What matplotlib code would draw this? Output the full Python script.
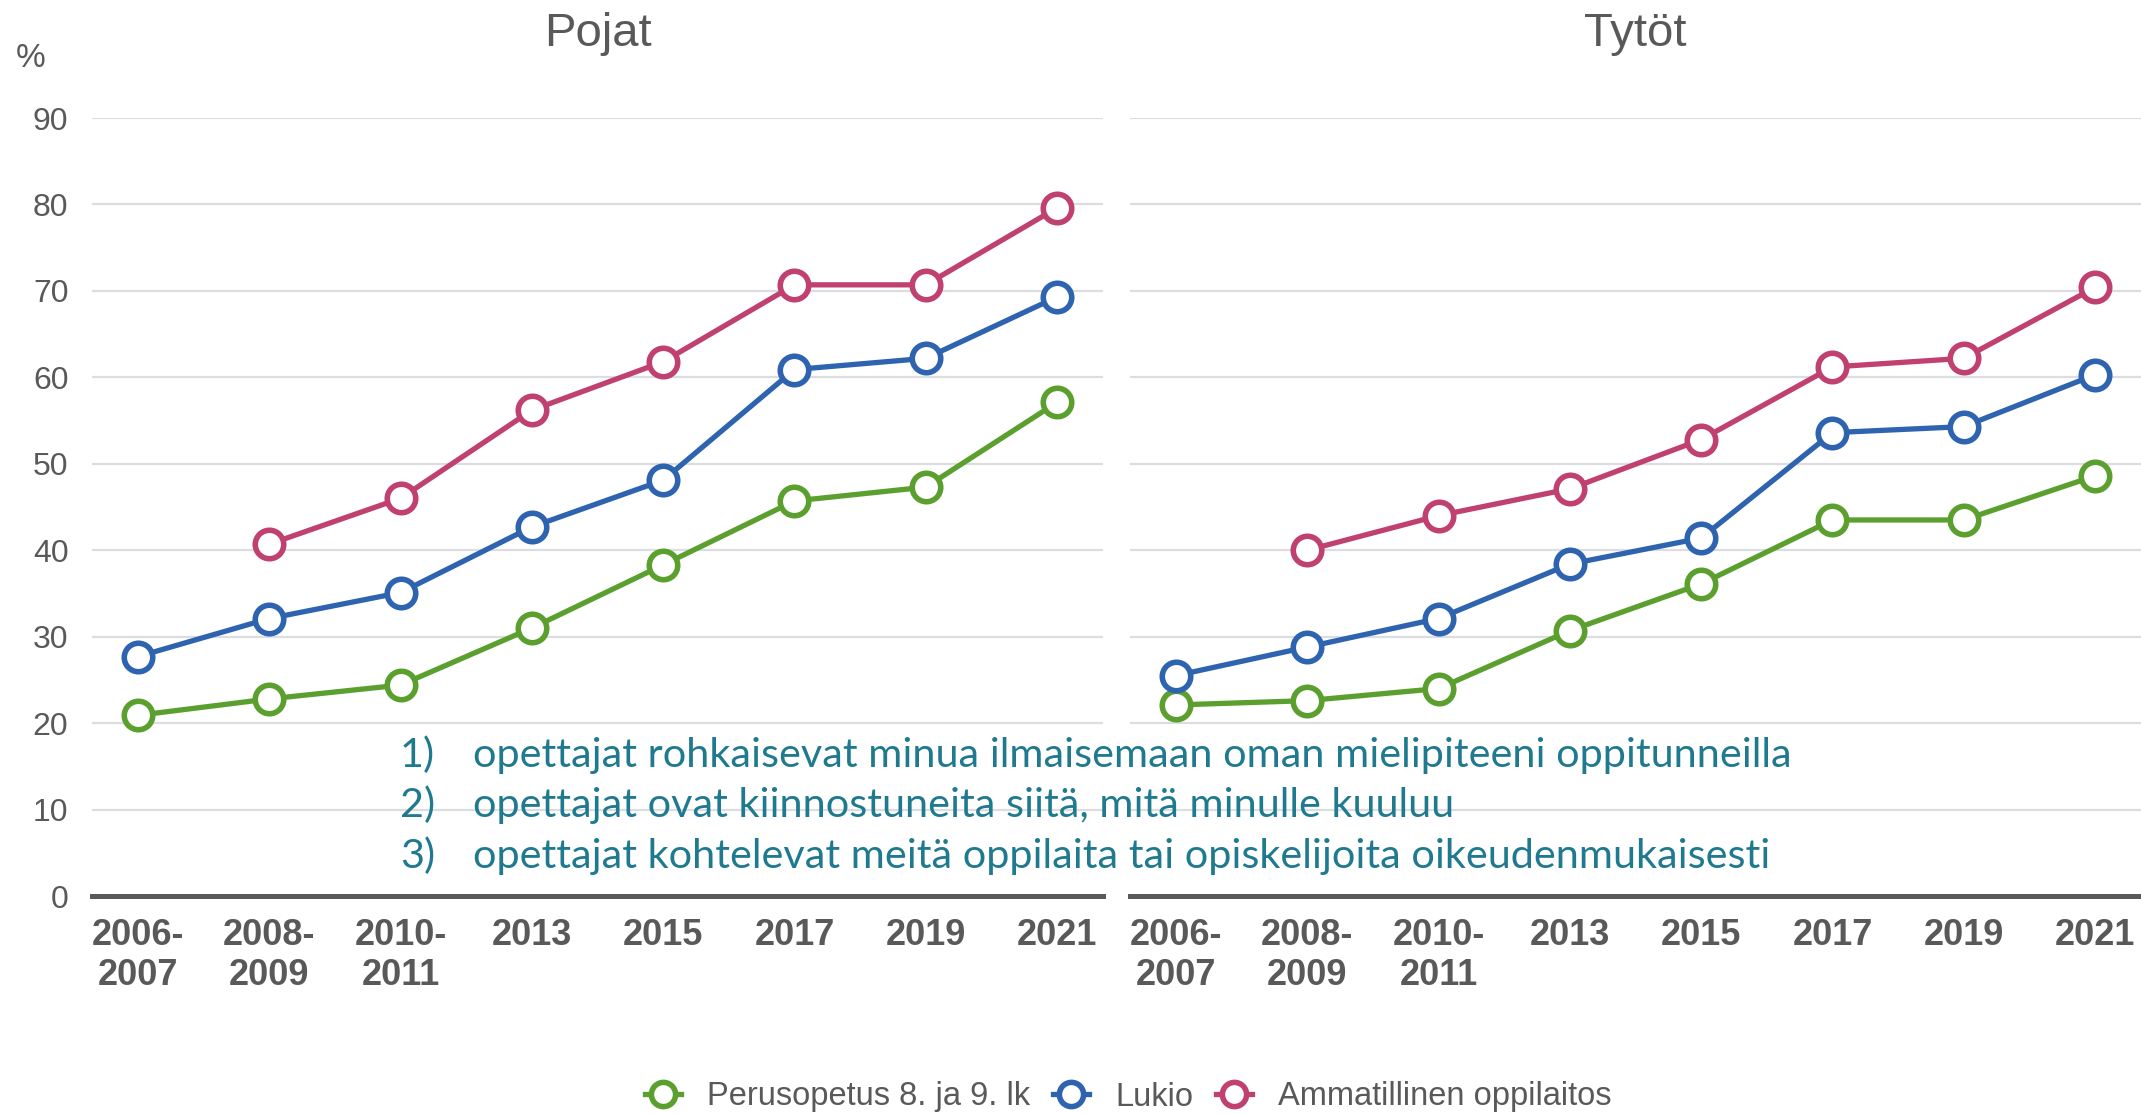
import numpy as np
import matplotlib.pyplot as plt

# categories
years = ["2006-\n2007", "2008-\n2009", "2010-\n2011", "2013", "2015", "2017", "2019", "2021"]

# Pojat
boys_perus = [20.9, 22.8, 24.4, 31.0, 38.3, 45.7, 47.3, 57.1]
boys_lukio = [27.7, 32.1, 35.1, 42.7, 48.1, 60.9, 62.2, 69.3]
boys_amm = [np.nan, 40.7, 46.0, 56.2, 61.8, 70.7, 70.7, 79.6]

# Tytöt
girls_perus = [22.1, 22.6, 24.0, 30.7, 36.1, 43.5, 43.5, 48.6]
girls_lukio = [25.5, 28.8, 32.1, 38.4, 41.4, 53.6, 54.3, 60.3]
girls_amm = [np.nan, 40.0, 44.0, 47.1, 52.8, 61.2, 62.2, 70.4]

series_names = ["Perusopetus 8. ja 9. lk", "Lukio", "Ammatillinen oppilaitos"]
colors = ["#5BA02E", "#2E63B0", "#C0416F"]

notes = [
    ("1)", "opettajat rohkaisevat minua ilmaisemaan oman mielipiteeni oppitunneilla"),
    ("2)", "opettajat ovat kiinnostuneita siitä, mitä minulle kuuluu"),
    ("3)", "opettajat kohtelevat meitä oppilaita tai opiskelijoita oikeudenmukaisesti"),
]

plt.rcParams['font.family'] = ['Liberation Sans', 'DejaVu Sans']
grey = "#595959"

W, H = 2141, 1114
fig = plt.figure(figsize=(W / 100, H / 100), dpi=100)

panels = [
    ("Pojat", [boys_perus, boys_lukio, boys_amm], 92),
    ("Tytöt", [girls_perus, girls_lukio, girls_amm], 1130),
]

x = np.arange(len(years))
handles = []
for title, data, left_px in panels:
    ax = fig.add_axes([left_px / W, 1 - 896 / H, 1011 / W, (896 - 118) / H])
    for vals, col, name in zip(data, colors, series_names):
        h, = ax.plot(x, vals, color=col, lw=3.8, marker='o', markersize=20.5,
                     markerfacecolor='white', markeredgecolor=col,
                     markeredgewidth=4.0, label=name, zorder=3, clip_on=False)
        if len(handles) < 3:
            handles.append(h)
    ax.set_xlim(-0.35, 7.35)
    ax.set_ylim(0, 90)
    ax.set_yticks(range(0, 100, 10))
    ax.grid(axis='y', color='#DCDDE0', lw=1.6)
    ax.set_axisbelow(True)
    for s in ['top', 'right', 'left']:
        ax.spines[s].set_visible(False)
    ax.spines['bottom'].set_color(grey)
    ax.spines['bottom'].set_linewidth(3.6)
    ax.set_xticks(x)
    ax.set_xticklabels(years, fontsize=26, fontweight='bold', color=grey,
                       linespacing=1.18)
    ax.tick_params(axis='x', length=0, pad=16)
    ax.tick_params(axis='y', length=0, labelsize=23, labelcolor=grey, pad=17)
    if left_px > 500:
        ax.set_yticklabels([])
    ax.set_title(title, fontsize=34, color=grey, pad=52)

fig.text(16 / W, 1 - 67 / H, "%", fontsize=24, color=grey, va='baseline')

teal = "#1F7A8F"
for i, (num, txt) in enumerate(notes):
    yb = 1 - (767 + 50.5 * i) / H
    fig.text(400 / W, yb, num, fontsize=29.8, color=teal, va='baseline',
             family=['Lato', 'DejaVu Sans'])
    fig.text(473 / W, yb, txt, fontsize=29.8, color=teal, va='baseline',
             family=['Lato', 'DejaVu Sans'])

fig.legend(handles=handles, loc='center', bbox_to_anchor=(0.527, 1 - 1097 / H),
           ncol=3, frameon=False, fontsize=23.5, labelcolor=grey,
           handlelength=1.1, handletextpad=0.8, columnspacing=0.7,
           markerscale=0.85)

fig.savefig("out.png", dpi=100)
